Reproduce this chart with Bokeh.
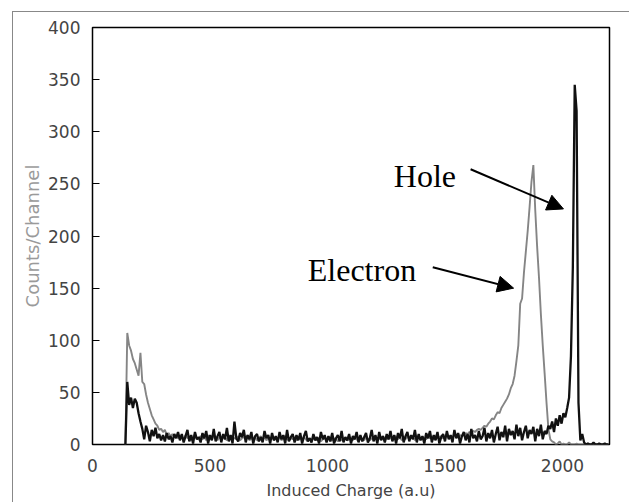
from bokeh.plotting import figure
from bokeh.models import Range1d, FixedTicker, Label, Arrow, NormalHead, InlineStyleSheet
from bokeh.embed import file_html
from bokeh.resources import INLINE

# channel grid (a.u.)
channel = list(range(140, 2200, 8))

# Electron (gray) counts per channel
electron = [
    0, 107, 95, 90, 82, 78, 72, 66, 88, 60,
    58, 48, 40, 34, 28, 24, 20, 18, 14, 15,
    12, 14, 9, 11, 8, 10, 7, 9, 6, 8,
    7, 5, 9, 6, 8, 4, 7, 10, 5, 6,
    8, 5, 7, 4, 9, 6, 5, 8, 6, 4,
    7, 5, 8, 6, 4, 9, 5, 7, 6, 5,
    8, 4, 6, 7, 5, 9, 4, 6, 5, 7,
    4, 6, 8, 5, 7, 4, 6, 5, 8, 4,
    6, 5, 7, 4, 6, 8, 5, 4, 6, 5,
    7, 4, 5, 6, 4, 7, 5, 3, 6, 4,
    5, 7, 4, 6, 3, 5, 6, 4, 7, 5,
    4, 6, 5, 3, 7, 4, 5, 6, 4, 5,
    6, 4, 7, 5, 3, 6, 5, 4, 7, 5,
    4, 6, 5, 7, 4, 6, 5, 8, 4, 6,
    5, 7, 4, 6, 8, 5, 7, 4, 6, 5,
    8, 5, 6, 7, 4, 8, 6, 5, 7, 6,
    5, 8, 6, 7, 5, 9, 6, 7, 8, 6,
    7, 9, 6, 8, 7, 10, 8, 7, 9, 8,
    9, 11, 10, 12, 11, 13, 12, 14, 15, 14,
    16, 18, 17, 20, 22, 25, 24, 28, 31, 30,
    35, 38, 41, 44, 48, 54, 58, 66, 80, 95,
    135, 140, 165, 185, 205, 228, 252, 268, 225, 190,
    160, 125, 95, 68, 40, 15, 5, 3, 2, 0,
    1, 3, 0, 1, 0, 0, 2, 0, 0, 0,
    1, 0, 0, 0, 0, 0, 1, 0, 0, 0,
    0, 0, 0, 0, 0, 0, 0, 0,
]

# Hole (black) counts per channel
hole = [
    0, 60, 38, 45, 35, 44, 40, 30, 22, 15,
    5, 18, 12, 3, 14, 8, 16, 6, 10, 4,
    9, 3, 11, 5, 8, 2, 10, 6, 12, 4,
    10, 2, 8, 14, 3, 9, 1, 12, 5, 7,
    2, 11, 6, 13, 1, 9, 4, 15, 3, 8,
    12, 2, 10, 5, 16, 3, 9, 1, 22, 6,
    3, 11, 7, 14, 2, 9, 5, 12, 1, 8,
    10, 3, 7, 2, 13, 6, 9, 1, 11, 4,
    8, 2, 12, 5, 9, 1, 14, 3, 7, 10,
    2, 9, 4, 11, 1, 8, 13, 3, 6, 2,
    10, 4, 7, 1, 12, 5, 9, 2, 8, 3,
    11, 1, 6, 9, 3, 13, 2, 7, 4, 10,
    1, 8, 5, 12, 2, 9, 3, 7, 11, 2,
    6, 14, 3, 9, 1, 12, 4, 8, 2, 10,
    5, 13, 3, 9, 1, 11, 6, 15, 2, 8,
    12, 3, 9, 5, 14, 2, 10, 4, 8, 1,
    11, 6, 13, 2, 9, 4, 12, 1, 7, 10,
    3, 13, 5, 9, 2, 14, 6, 11, 1, 8,
    12, 4, 10, 2, 15, 6, 9, 3, 13, 5,
    8, 16, 3, 11, 6, 14, 2, 10, 17, 4,
    12, 7, 18, 3, 15, 9, 13, 5, 19, 8,
    16, 4, 12, 18, 6, 14, 10, 17, 3, 15,
    8, 19, 5, 13, 10, 18, 15, 22, 12, 25,
    18, 28, 20, 30, 26, 35, 45, 85, 170, 345,
    320, 40, 4, 10, 2, 0, 1, 0, 0, 2,
    0, 0, 1, 0, 0, 1, 0, 0,
]

x_ticks = [0, 500, 1000, 1500, 2000]
y_ticks = [0, 50, 100, 150, 200, 250, 300, 350, 400]

p = figure(frame_width=517, frame_height=417, output_backend="svg",
           toolbar_location=None, x_range=Range1d(0, 2200), y_range=Range1d(0, 400),
           min_border_left=92, min_border_top=27, min_border_right=20, min_border_bottom=40)
p.background_fill_color = "white"
p.border_fill_color = "white"
p.outline_line_color = "black"
p.outline_line_width = 1.5
p.grid.visible = False

# outer picture border (only left and top edges are inside the picture)
p.stylesheets = [InlineStyleSheet(css=(
    ":host::after { content: ''; position: absolute; left: 12px; top: 11px; "
    "right: 0; bottom: 0; border-left: 1px solid #888888; "
    "border-top: 1px solid #888888; pointer-events: none; z-index: 100; }"))]

tick_font = "DejaVu Sans"
p.xaxis.ticker = FixedTicker(ticks=x_ticks)
p.yaxis.ticker = FixedTicker(ticks=y_ticks)
for ax in (p.xaxis[0], p.yaxis[0]):
    ax.axis_line_color = None
    ax.minor_tick_line_color = None
    ax.major_label_text_font = tick_font
    ax.major_label_text_font_size = "17px"
    ax.major_label_text_color = "#444444"
    ax.axis_label_text_font = tick_font
    ax.axis_label_text_font_style = "normal"
p.xaxis.major_tick_line_color = None
p.xaxis.major_label_standoff = 8
p.xaxis.axis_label = "Induced Charge (a.u)"
p.xaxis.axis_label_text_color = "#444444"
p.xaxis.axis_label_text_font_size = "16px"
p.xaxis.axis_label_standoff = 6
p.yaxis.major_tick_in = 7
p.yaxis.major_tick_out = 0
p.yaxis.major_tick_line_color = "black"
p.yaxis.major_label_standoff = 12
p.yaxis.axis_label = "Counts/Channel"
p.yaxis.axis_label_text_color = "#9a9a9a"
p.yaxis.axis_label_text_font_size = "18px"
p.yaxis.axis_label_standoff = 2

p.line(channel, electron, line_color="#858585", line_width=1.9)
p.line(channel, hole, line_color="#111111", line_width=2.3)

serif = "Liberation Serif"
p.add_layout(Label(x=1282, y=258, text="Hole", text_font=serif, text_font_size="32px",
                   text_color="black", text_baseline="alphabetic"))
p.add_layout(Label(x=916, y=167, text="Electron", text_font=serif, text_font_size="32px",
                   text_color="black", text_baseline="alphabetic"))
p.add_layout(Arrow(x_start=1609, y_start=264, x_end=2004, y_end=226, line_width=2,
                   line_color="black",
                   end=NormalHead(size=16, fill_color="black", line_color="black")))
p.add_layout(Arrow(x_start=1448, y_start=170, x_end=1792, y_end=150, line_width=2,
                   line_color="black",
                   end=NormalHead(size=16, fill_color="black", line_color="black")))

open("out.html", "w").write(file_html(p, INLINE))
